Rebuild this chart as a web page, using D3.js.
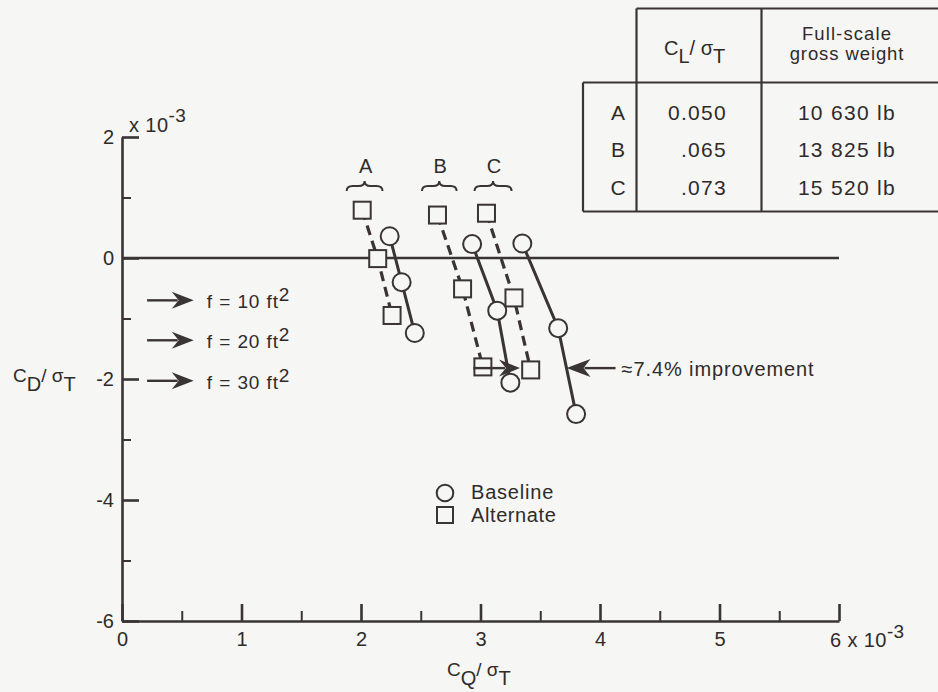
<!DOCTYPE html>
<html><head><meta charset="utf-8">
<script src="https://cdn.jsdelivr.net/npm/d3@7"></script>
<style>
html,body{margin:0;padding:0;background:#f6f6f4;}
svg{display:block;}
text{font-family:"Liberation Sans",Arial,Helvetica,sans-serif;fill:#2f2b2b;}
</style></head><body>
<svg id="chart" width="938" height="692"></svg>
<script>
// ---- data ----
const groups = ["A", "B", "C"];
const baselineCQ = [[2.24, 2.34, 2.45], [2.93, 3.14, 3.25], [3.35, 3.65, 3.80]];
const baselineCD = [[0.36, -0.40, -1.24], [0.23, -0.87, -2.06], [0.24, -1.16, -2.58]];
const alternateCQ = [[2.01, 2.14, 2.26], [2.64, 2.85, 3.02], [3.05, 3.28, 3.42]];
const alternateCD = [[0.79, -0.01, -0.95], [0.71, -0.51, -1.80], [0.74, -0.66, -1.85]];
const braceFrom = [1.88, 2.51, 2.95];
const braceTo = [2.18, 2.80, 3.26];
const fLabels = ["10", "20", "30"];
const fCD = [-0.70, -1.36, -2.03];
const xTicks = [0, 1, 2, 3, 4, 5, 6];
const xMinor = [0.5, 1.5, 2.5, 3.5, 4.5, 5.5];
const yTicks = [2, 0, -2, -4, -6];
const yMinor = [1, -1, -3, -5];
const tableRows = ["A", "B", "C"];
const clSigma = ["0.050", ".065", ".073"];
const grossWeight = ["10 630 lb", "13 825 lb", "15 520 lb"];
const improvementLabel = "\u22487.4% improvement";
const improvementCD = -1.82;
const arrowRight = [2.94, 3.33];   // from, tip (CQ)
const arrowLeft = [4.13, 3.72];    // from, tip (CQ)

// ---- setup ----
const W = 938, H = 692;
const ink = "#3a3434", bg = "#f6f6f4";
const svg = d3.select("#chart");
svg.append("rect").attr("width", W).attr("height", H).attr("fill", bg);
const x = d3.scaleLinear().domain([0, 6]).range([122, 839]);
const y = d3.scaleLinear().domain([-6, 2]).range([621, 137]);

function styleAxis(g, sw) {
  g.attr("font-size", null).attr("font-family", null);
  g.selectAll("path, line").attr("stroke", ink).attr("stroke-width", sw);
  g.selectAll("text").style("font-size", "20px").attr("fill", "#2f2b2b");
}

// minor ticks
const gxm = svg.append("g").attr("transform", `translate(0,${y(-6)})`)
  .call(d3.axisBottom(x).tickValues(xMinor).tickSize(-10).tickSizeOuter(0).tickFormat(""));
gxm.select(".domain").remove(); styleAxis(gxm, 2);
const gym = svg.append("g").attr("transform", `translate(${x(0)},0)`)
  .call(d3.axisLeft(y).tickValues(yMinor).tickSize(-9).tickSizeOuter(0).tickFormat(""));
gym.select(".domain").remove(); styleAxis(gym, 2);

// major axes
const gx = svg.append("g").attr("transform", `translate(0,${y(-6)})`)
  .call(d3.axisBottom(x).tickValues(xTicks).tickSize(-17).tickSizeOuter(0).tickPadding(11)
    .tickFormat(d => d === 6 ? "" : String(d)));
styleAxis(gx, 2.6);
const gy = svg.append("g").attr("transform", `translate(${x(0)},0)`)
  .call(d3.axisLeft(y).tickValues(yTicks).tickSize(-17).tickSizeOuter(0).tickPadding(8)
    .tickFormat(d => String(d)));
styleAxis(gy, 2.6);

// exponent labels
const ex = svg.append("text").attr("x", x(6) - 9).attr("y", 647).style("font-size", "20px").style("letter-spacing", "0.4px");
ex.append("tspan").text("6 x 10");
ex.append("tspan").attr("dy", -9).style("font-size", "19px").text("-3");
const ey = svg.append("text").attr("x", x(0) + 7).attr("y", 132).style("font-size", "20px").style("letter-spacing", "0.4px");
ey.append("tspan").text("x 10");
ey.append("tspan").attr("dy", -10).style("font-size", "19px").text("-3");

// zero line
svg.append("line").attr("x1", x(0)).attr("x2", x(6)).attr("y1", y(0)).attr("y2", y(0))
  .attr("stroke", ink).attr("stroke-width", 2.6);

// axis titles
const ty = svg.append("text").attr("x", 13).attr("y", 382).style("font-size", "19px");
ty.append("tspan").text("C");
ty.append("tspan").attr("dy", 9).style("font-size", "20px").text("D");
ty.append("tspan").attr("dy", -9).text("/ \u03c3");
ty.append("tspan").attr("dy", 9).style("font-size", "20px").text("T");
const tx = svg.append("text").attr("x", 447).attr("y", 676).style("font-size", "19px");
tx.append("tspan").text("C");
tx.append("tspan").attr("dy", 9).style("font-size", "20px").text("Q");
tx.append("tspan").attr("dy", -9).text("/ \u03c3");
tx.append("tspan").attr("dy", 9).style("font-size", "20px").text("T");

// series lines
const line = d3.line().x(d => x(d[0])).y(d => y(d[1]));
groups.forEach((g, i) => {
  const alt = alternateCQ[i].map((v, j) => [v, alternateCD[i][j]]);
  const base = baselineCQ[i].map((v, j) => [v, baselineCD[i][j]]);
  svg.append("path").attr("d", line(alt)).attr("fill", "none").attr("stroke", ink)
    .attr("stroke-width", 3.2).attr("stroke-dasharray", "10,6");
  svg.append("path").attr("d", line(base)).attr("fill", "none").attr("stroke", ink)
    .attr("stroke-width", 3);
});
// markers
groups.forEach((g, i) => {
  alternateCQ[i].forEach((v, j) => {
    svg.append("rect").attr("x", x(v) - 8.5).attr("y", y(alternateCD[i][j]) - 8.5)
      .attr("width", 17).attr("height", 17).attr("fill", bg).attr("stroke", ink).attr("stroke-width", 2);
  });
  baselineCQ[i].forEach((v, j) => {
    svg.append("circle").attr("cx", x(v)).attr("cy", y(baselineCD[i][j])).attr("r", 9)
      .attr("fill", bg).attr("stroke", ink).attr("stroke-width", 2);
  });
});

// braces + group letters
groups.forEach((g, i) => {
  const xa = x(braceFrom[i]), xb = x(braceTo[i]), m = (xa + xb) / 2, yb = 186;
  const p = `M${xa},${yb + 5} Q${xa},${yb} ${xa + 6},${yb} L${m - 6},${yb} Q${m},${yb} ${m},${yb - 5} Q${m},${yb} ${m + 6},${yb} L${xb - 6},${yb} Q${xb},${yb} ${xb},${yb + 5}`;
  svg.append("path").attr("d", p).attr("fill", "none").attr("stroke", ink).attr("stroke-width", 2);
  svg.append("text").attr("x", m + 1).attr("y", 173).attr("text-anchor", "middle")
    .style("font-size", "20px").text(g);
});

// arrows
function arrow(fromX, tipX, yy, len, hw) {
  const dir = tipX > fromX ? 1 : -1;
  svg.append("line").attr("x1", fromX).attr("x2", tipX - dir * (len - 6)).attr("y1", yy).attr("y2", yy)
    .attr("stroke", ink).attr("stroke-width", 2.4);
  svg.append("path").attr("d",
    `M${tipX},${yy} L${tipX - dir * len},${yy - hw} L${tipX - dir * (len - 7)},${yy} L${tipX - dir * len},${yy + hw} Z`)
    .attr("fill", ink);
}
fCD.forEach((v, i) => {
  arrow(x(0.21), x(0.60), y(v), 22, 8.5);
  const t = svg.append("text").attr("x", x(0.71)).attr("y", y(v) + 8).style("font-size", "19px").style("letter-spacing", "0.9px");
  t.append("tspan").text(`f = ${fLabels[i]} ft`);
  t.append("tspan").attr("dy", -7).style("font-size", "19px").text("2");
});
arrow(x(arrowRight[0]), x(arrowRight[1]), y(improvementCD), 21, 8.5);
arrow(x(arrowLeft[0]), x(arrowLeft[1]), y(improvementCD), 24, 9);
svg.append("text").attr("x", x(arrowLeft[0]) + 6).attr("y", y(improvementCD) + 8)
  .style("font-size", "20px").style("letter-spacing", "0.9px").text(improvementLabel);

// legend
svg.append("circle").attr("cx", 445).attr("cy", 493).attr("r", 8.3)
  .attr("fill", bg).attr("stroke", ink).attr("stroke-width", 2);
svg.append("rect").attr("x", 437).attr("y", 507).attr("width", 16).attr("height", 16)
  .attr("fill", bg).attr("stroke", ink).attr("stroke-width", 2);
svg.append("text").attr("x", 471).attr("y", 499).style("font-size", "20px").style("letter-spacing", "0.8px").text("Baseline");
svg.append("text").attr("x", 471).attr("y", 522).style("font-size", "20px").style("letter-spacing", "0.6px").text("Alternate");

// table
const tg = svg.append("g");
const tl = (x1, y1, x2, y2) => tg.append("line").attr("x1", x1).attr("y1", y1).attr("x2", x2).attr("y2", y2)
  .attr("stroke", ink).attr("stroke-width", 2.2);
tl(636.5, 8.5, 940, 8.5);
tl(583, 82.5, 940, 82.5);
tl(583, 211.5, 940, 211.5);
tl(583, 82.5, 583, 211.5);
tl(636.5, 8.5, 636.5, 211.5);
tl(761.5, 8.5, 761.5, 211.5);
const h1 = tg.append("text").attr("x", 664).attr("y", 55).style("font-size", "20px");
h1.append("tspan").text("C");
h1.append("tspan").attr("dy", 8).text("L");
h1.append("tspan").attr("dy", -8).text("/ \u03c3");
h1.append("tspan").attr("dy", 8).text("T");
tg.append("text").attr("x", 847).attr("y", 39.5).attr("text-anchor", "middle")
  .style("font-size", "18.5px").style("letter-spacing", "1.1px").text("Full-scale");
tg.append("text").attr("x", 847).attr("y", 60).attr("text-anchor", "middle")
  .style("font-size", "18.5px").style("letter-spacing", "0.9px").text("gross weight");
tableRows.forEach((r, i) => {
  const yy = 119.5 + i * 37.8;
  tg.append("text").attr("x", 618).attr("y", yy).attr("text-anchor", "middle").style("font-size", "21px").text(r);
  tg.append("text").attr("x", 727).attr("y", yy).attr("text-anchor", "end")
    .style("font-size", "21px").style("letter-spacing", "1.3px").text(clSigma[i]);
  tg.append("text").attr("x", 896).attr("y", yy).attr("text-anchor", "end")
    .style("font-size", "21px").style("letter-spacing", "1.3px").text(grossWeight[i]);
});
</script>
</body></html>
